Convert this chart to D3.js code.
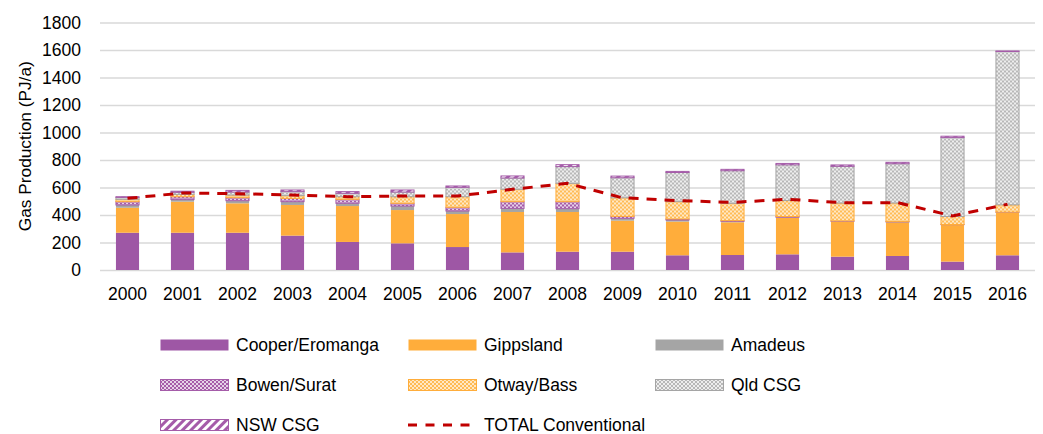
<!DOCTYPE html>
<html>
<head>
<meta charset="utf-8">
<script src="https://cdn.jsdelivr.net/npm/d3@7"></script>
<style>
  body { margin: 0; background: #fff; }
  svg text { font-family: "Liberation Sans", Arial, sans-serif; fill: #000; }
  .grid line { stroke: #d9d9d9; stroke-width: 1.5; }
  .grid .domain { display: none; }
  .axis .domain, .axis line { display: none; }
</style>
</head>
<body>
<div id="chart"></div>
<script>
// Data (PJ/a)
var years = ["2000", "2001", "2002", "2003", "2004", "2005", "2006", "2007", "2008",
  "2009", "2010", "2011", "2012", "2013", "2014", "2015", "2016"];
var cooper = [271, 271, 271, 250, 204, 194, 167, 128, 133, 133, 107, 109, 114, 97, 102, 61, 107];
var gippsland = [182, 226, 214, 223, 261, 242, 240, 294, 289, 226, 245, 238, 267, 255, 245, 266, 310];
var amadeus = [20, 15, 19, 24, 20, 29, 22, 26, 24, 17, 12, 7, 3, 3, 3, 3, 3];
var bowen = [24, 21, 22, 24, 29, 20, 27, 49, 51, 14, 7, 5, 5, 2, 2, 1, 1];
var otway = [17, 17, 19, 20, 19, 48, 77, 90, 133, 135, 126, 126, 116, 130, 135, 58, 53];
var qldCsg = [14, 15, 22, 29, 25, 34, 68, 82, 122, 146, 212, 237, 260, 267, 286, 574, 1115];
var nswCsg = [5, 8, 12, 12, 12, 15, 10, 15, 14, 12, 8, 10, 10, 10, 10, 10, 4];
var totalConventional = [521, 560, 555, 545, 533, 538, 538, 587, 630, 525, 505, 492, 514, 490, 490, 393, 478];
var yTicks = [0, 200, 400, 600, 800, 1000, 1200, 1400, 1600, 1800];

var seriesNames = ["Cooper/Eromanga", "Gippsland", "Amadeus", "Bowen/Surat", "Otway/Bass", "Qld CSG", "NSW CSG"];
var seriesValues = [cooper, gippsland, amadeus, bowen, otway, qldCsg, nswCsg];

var width = 1043, height = 434;
var margins = { top: 22.5, right: 8, bottom: 164, left: 100 };
var chartWidth = width - margins.left - margins.right;
var chartHeight = height - margins.top - margins.bottom;

var svg = d3.select("#chart").append("svg")
  .attr("width", width)
  .attr("height", height);

// Fill patterns
var defs = svg.append("defs");

var checker = function(id, dark, light) {
  var p = defs.append("pattern")
    .attr("id", id)
    .attr("patternUnits", "userSpaceOnUse")
    .attr("width", 4).attr("height", 4);
  p.append("rect").attr("width", 4).attr("height", 4).attr("fill", light);
  p.append("rect").attr("width", 2).attr("height", 2).attr("fill", dark);
  p.append("rect").attr("x", 2).attr("y", 2).attr("width", 2).attr("height", 2).attr("fill", dark);
};
checker("pat-bowen", "#a55ca9", "#e6d2e8");
checker("pat-otway", "#ffbb55", "#ffe8c6");
checker("pat-qld", "#b8b8b8", "#eeeeee");

var stripes = defs.append("pattern")
  .attr("id", "pat-nsw")
  .attr("patternUnits", "userSpaceOnUse")
  .attr("width", 6).attr("height", 6)
  .attr("patternTransform", "rotate(45)");
stripes.append("rect").attr("width", 6).attr("height", 6).attr("fill", "#fff");
stripes.append("rect").attr("width", 3).attr("height", 6).attr("fill", "#a55ca9");

var fills = {
  "Cooper/Eromanga": "#9e57a5",
  "Gippsland": "#ffad3b",
  "Amadeus": "#a5a5a5",
  "Bowen/Surat": "url(#pat-bowen)",
  "Otway/Bass": "url(#pat-otway)",
  "Qld CSG": "url(#pat-qld)",
  "NSW CSG": "url(#pat-nsw)"
};
var strokes = {
  "Cooper/Eromanga": "none",
  "Gippsland": "none",
  "Amadeus": "none",
  "Bowen/Surat": "#a55ca9",
  "Otway/Bass": "#ffad3b",
  "Qld CSG": "#a5a5a5",
  "NSW CSG": "#a55ca9"
};

// Build rows for stacking
var rows = years.map(function(y, i) {
  var row = { year: y };
  seriesNames.forEach(function(name, j) {
    row[name] = seriesValues[j][i];
  });
  return row;
});
var stacked = d3.stack().keys(seriesNames)(rows);

var chartElement = svg.append("g")
  .attr("transform", "translate(" + margins.left + "," + margins.top + ")");

var xScale = d3.scaleBand()
  .domain(years)
  .range([0, chartWidth])
  .paddingInner(0.58)
  .paddingOuter(0.29);

var yScale = d3.scaleLinear()
  .domain([0, 1800])
  .range([chartHeight, 0]);

// Grid
chartElement.append("g")
  .attr("class", "grid")
  .call(d3.axisLeft(yScale).tickValues(yTicks).tickSize(-chartWidth).tickFormat(""));

// Y axis labels
chartElement.append("g")
  .attr("class", "axis")
  .attr("transform", "translate(-12,0)")
  .call(d3.axisLeft(yScale).tickValues(yTicks).tickSize(0).tickPadding(7).tickFormat(d3.format("d")))
  .selectAll("text")
  .style("font-size", "17.5px");

// X axis labels
chartElement.append("g")
  .attr("class", "axis")
  .attr("transform", "translate(0," + chartHeight + ")")
  .call(d3.axisBottom(xScale).tickSize(0).tickPadding(18))
  .selectAll("text")
  .style("font-size", "17.5px");

// Y title
svg.append("text")
  .attr("transform", "translate(31," + (margins.top + chartHeight / 2) + ") rotate(-90)")
  .attr("text-anchor", "middle")
  .style("font-size", "17.3px")
  .text("Gas Production (PJ/a)");

// Bars
var layers = chartElement.selectAll(".layer")
  .data(stacked)
  .enter()
  .append("g")
  .attr("class", "layer");

layers.selectAll("rect")
  .data(function(d) {
    return d.map(function(v) { return { key: d.key, v: v }; });
  })
  .enter()
  .append("rect")
  .attr("x", function(d) { return xScale(d.v.data.year); })
  .attr("y", function(d) { return yScale(d.v[1]); })
  .attr("width", xScale.bandwidth())
  .attr("height", function(d) { return Math.max(0, yScale(d.v[0]) - yScale(d.v[1])); })
  .attr("fill", function(d) { return fills[d.key]; })
  .attr("stroke", function(d) { return strokes[d.key]; })
  .attr("stroke-width", 1);

// Total conventional line
var line = d3.line()
  .x(function(d, i) { return xScale(years[i]) + xScale.bandwidth() / 2; })
  .y(function(d) { return yScale(d); });

chartElement.append("path")
  .datum(totalConventional)
  .attr("d", line)
  .attr("fill", "none")
  .attr("stroke", "#c00000")
  .attr("stroke-width", 3)
  .attr("stroke-dasharray", "10,8");

// Legend
var legendItems = seriesNames.concat(["TOTAL Conventional"]);
var colX = [160, 408, 655];
var rowY = [345, 385, 425];

var legend = svg.append("g").attr("class", "legend")
  .selectAll("g")
  .data(legendItems)
  .enter()
  .append("g")
  .attr("transform", function(d, i) {
    return "translate(" + colX[i % 3] + "," + rowY[Math.floor(i / 3)] + ")";
  });

legend.each(function(d) {
  var g = d3.select(this);
  if (d === "TOTAL Conventional") {
    g.append("line")
      .attr("x1", 0).attr("x2", 68)
      .attr("y1", 0).attr("y2", 0)
      .attr("stroke", "#c00000")
      .attr("stroke-width", 3)
      .attr("stroke-dasharray", "9,8.5");
  } else {
    g.append("rect")
      .attr("x", 0.5).attr("y", -5.5)
      .attr("width", 68).attr("height", 11)
      .attr("fill", fills[d])
      .attr("stroke", strokes[d]);
  }
  g.append("text")
    .attr("x", 76)
    .attr("y", 0)
    .attr("dy", "0.35em")
    .style("font-size", "17.5px")
    .text(d);
});
</script>
</body>
</html>
